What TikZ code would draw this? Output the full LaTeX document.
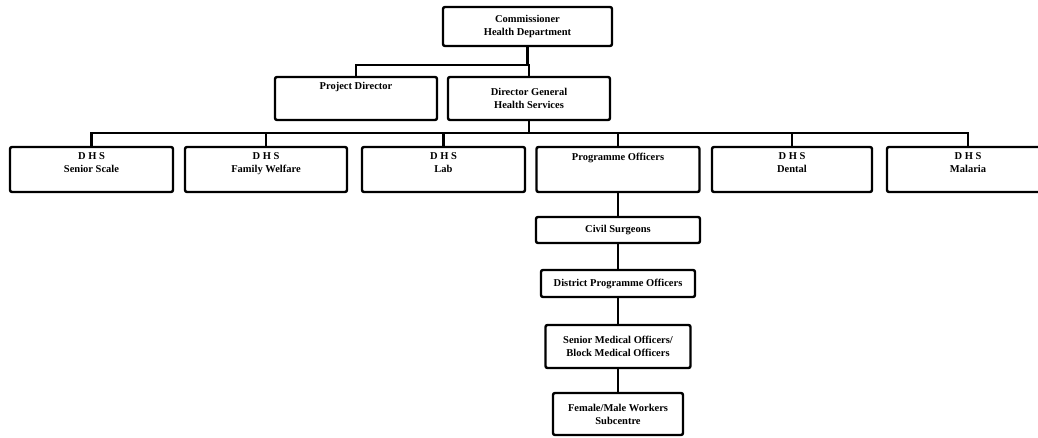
\documentclass[tikz,border=0pt]{standalone}
\usepackage{fontspec}
\setmainfont{Liberation Serif}
\begin{document}
\begin{tikzpicture}[x=1bp,y=-1bp,
  box/.style={draw, line width=2.4bp, rounded corners=2bp, align=center,
    inner sep=0pt, font=\bfseries\fontsize{10.5bp}{13bp}\selectfont},
  link/.style={line width=2.2bp}]
\useasboundingbox (0,0) rectangle (1038,438);
\clip (0,0) rectangle (1038,438);

% top levels
\node[box, minimum width=169bp, minimum height=39bp] (comm) at (527.5,26.5)
  {Commissioner\\Health Department};
\node[box, minimum width=162bp, minimum height=43bp] (pd) at (356,98.5)
  {Project Director\\\mbox{}\\\mbox{}};
\node[box, minimum width=162bp, minimum height=43bp] (dg) at (529,98.5)
  {Director General\\Health Services};

% directorates
\node[box, minimum width=163bp, minimum height=45bp] (b1) at (91.5,169.5)
  {D H S\\Senior Scale\\\mbox{}};
\node[box, minimum width=162bp, minimum height=45bp] (b2) at (266,169.5)
  {D H S\\Family Welfare\\\mbox{}};
\node[box, minimum width=163bp, minimum height=45bp] (b3) at (443.5,169.5)
  {D H S\\Lab\\\mbox{}};
\node[box, minimum width=163bp, minimum height=45bp] (b4) at (618,169.5)
  {Programme Officers\\\mbox{}\\\mbox{}};
\node[box, minimum width=160bp, minimum height=45bp] (b5) at (792,169.5)
  {D H S\\Dental\\\mbox{}};
\node[box, minimum width=162bp, minimum height=45bp] (b6) at (968,169.5)
  {D H S\\Malaria\\\mbox{}};

% field chain
\node[box, minimum width=164bp, minimum height=26bp] (cs) at (618,230)
  {Civil Surgeons};
\node[box, minimum width=154bp, minimum height=27bp] (dpo) at (618,283.5)
  {District Programme Officers};
\node[box, minimum width=145bp, minimum height=43bp] (smo) at (618,346.5)
  {Senior Medical Officers/\\Block Medical Officers};
\node[box, minimum width=130bp, minimum height=42bp] (fmw) at (618,414)
  {Female/Male Workers\\Subcentre};

% bus levels
\coordinate (upbus) at (0,65);
\coordinate (midbus) at (0,133);

% connectors
\draw[link] (comm.south) -- (comm.south |- upbus);
\draw[link] (pd.north) -- (pd.north |- upbus) -- (dg.north |- upbus) -- (dg.north);
\draw[link] (dg.south) -- (dg.south |- midbus);
\draw[link] (b1.north) -- (b1.north |- midbus) -- (b6.north |- midbus) -- (b6.north);
\foreach \b in {b2,b3,b4,b5}
  \draw[link] (\b.north) -- (\b.north |- midbus);
\draw[link] (b4.south) -- (cs.north);
\draw[link] (cs.south) -- (dpo.north);
\draw[link] (dpo.south) -- (smo.north);
\draw[link] (smo.south) -- (fmw.north);
\end{tikzpicture}
\end{document}
